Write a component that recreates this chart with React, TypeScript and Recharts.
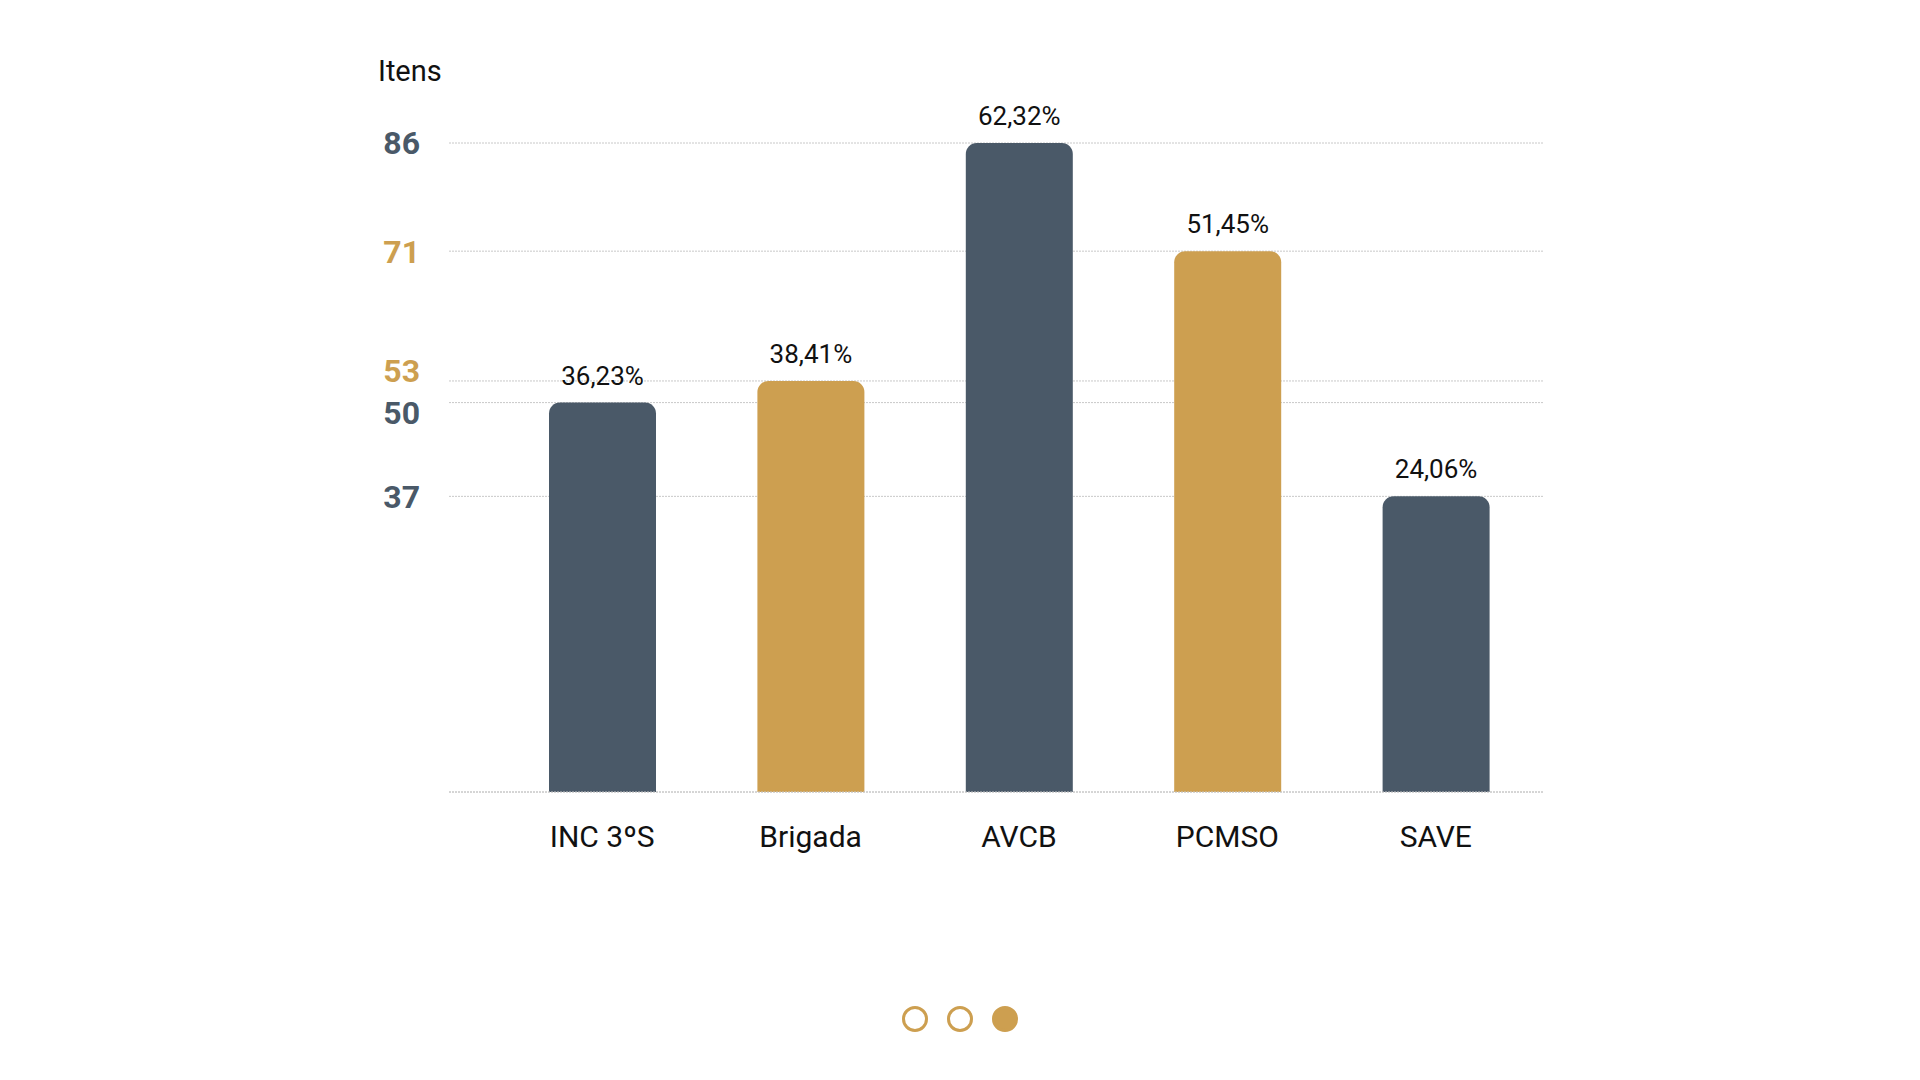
import React from 'react';
import { BarChart, Bar, XAxis, YAxis, CartesianGrid, Cell, LabelList } from 'recharts';

const categories = ['INC 3ºS', 'Brigada', 'AVCB', 'PCMSO', 'SAVE'];
const items = [50, 53, 86, 71, 37];
const percents = [36.23, 38.41, 62.32, 51.45, 24.06];
const barColors = ['#4a5968', '#cd9f50', '#4a5968', '#cd9f50', '#4a5968'];
const yTicks = [37, 50, 53, 71, 86];
const yDomain = [-4, 86];
const dots = [false, false, true];

const data = categories.map((name, i) => ({ name, items: items[i], pct: percents[i] }));

const FONT = 'Roboto, "Noto Sans", sans-serif';
const CHART_W = 1920;
const CHART_H = 1080;
const MARGIN = { top: 143, right: 377, bottom: 228, left: 0 };
const X_AXIS_H = 60;
const PLOT_H = CHART_H - MARGIN.top - MARGIN.bottom - X_AXIS_H;
const PX_PER_UNIT = PLOT_H / (yDomain[1] - yDomain[0]);
const MIN_LABEL_GAP = 42;

const tickColor = (v: number) => {
  const idx = items.indexOf(v);
  return idx >= 0 ? barColors[idx] : '#4a5968';
};

// push apart tick labels whose lines are too close to read
const labelShift = (v: number) => {
  let shift = 0;
  yTicks.forEach((o) => {
    if (o === v) return;
    const gap = Math.abs(o - v) * PX_PER_UNIT;
    if (gap < MIN_LABEL_GAP) {
      const push = (MIN_LABEL_GAP - gap) / 2;
      shift += o > v ? push : -push;
    }
  });
  return shift;
};

const YTick = (props: any) => {
  const { x, y, payload } = props;
  return (
    <text x={x} y={y + labelShift(payload.value)} dy="0.355em" textAnchor="end" fill={tickColor(payload.value)}
      fontSize={32} fontWeight={700} fontFamily={FONT}>
      {payload.value}
    </text>
  );
};

const XTick = (props: any) => {
  const { x, y, payload } = props;
  return (
    <text x={x} y={y} dy="0.71em" textAnchor="middle" fill="#111" fontSize={30} fontFamily={FONT}>
      {payload.value}
    </text>
  );
};

const RoundedTopBar = (props: any) => {
  const { x, y, width, height, fill, background } = props;
  const bottom = background && background.height ? background.y + background.height : y + height;
  const r = Math.min(11, width / 2);
  const d = `M${x},${bottom} L${x},${y + r} A${r},${r} 0 0 1 ${x + r},${y} L${x + width - r},${y} A${r},${r} 0 0 1 ${x + width},${y + r} L${x + width},${bottom} Z`;
  return <path d={d} fill={fill} />;
};

const fmtPct = (v: any) => `${Number(v).toFixed(2).replace('.', ',')}%`;

export default function App() {
  return (
    <div style={{ position: 'absolute', left: 0, top: 0, width: CHART_W, height: CHART_H, background: '#fff', fontFamily: FONT }}>
      <div style={{ position: 'absolute', left: 378, top: 53, fontSize: 29, color: '#111', lineHeight: '36px' }}>Itens</div>
      <BarChart width={CHART_W} height={CHART_H} data={data} margin={MARGIN}>
        <CartesianGrid horizontal vertical={false} stroke="#c8c8c8" strokeDasharray="2 1" />
        <XAxis dataKey="name" height={X_AXIS_H} padding={{ left: 49, right: 3 }}
          axisLine={{ stroke: '#c8c8c8', strokeDasharray: '2 1' }} tickLine={false}
          tickSize={0} tickMargin={34} tick={<XTick />} interval={0} />
        <YAxis type="number" domain={yDomain} ticks={yTicks} width={449}
          axisLine={false} tickLine={false} tickSize={0} tickMargin={29} tick={<YTick />} interval={0} />
        <Bar dataKey="items" barSize={107} isAnimationActive={false} shape={<RoundedTopBar />}>
          {data.map((d, i) => (
            <Cell key={d.name} fill={barColors[i]} />
          ))}
          <LabelList dataKey="pct" position="top" offset={18} formatter={fmtPct}
            style={{ fontSize: 26, fill: '#111', fontFamily: FONT }} />
        </Bar>
      </BarChart>
      {dots.map((filled, i) => (
        <div key={i} style={{
          position: 'absolute', left: 915 + i * 45 - 13, top: 1019 - 13, width: 26, height: 26,
          boxSizing: 'border-box', borderRadius: '50%', border: '3.5px solid #cd9f50',
          background: filled ? '#cd9f50' : 'transparent',
        }} />
      ))}
    </div>
  );
}
